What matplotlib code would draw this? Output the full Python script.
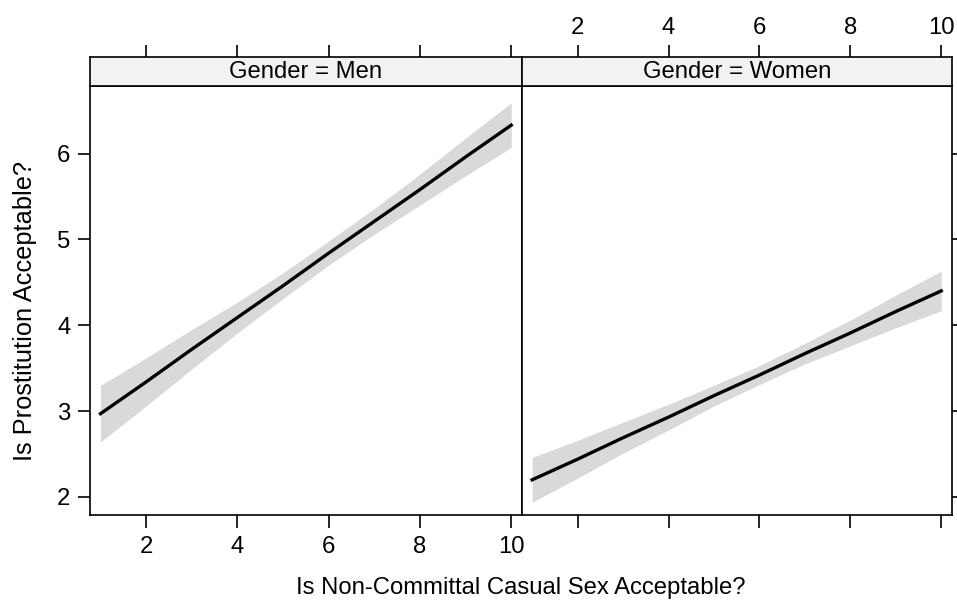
import matplotlib
matplotlib.use("Agg")
import matplotlib.pyplot as plt

plt.rcParams['font.family'] = ['Liberation Sans', 'DejaVu Sans']

# Data
x_vals = [1, 2, 3, 4, 5, 6, 7, 8, 9, 10]
men_fit = [2.97, 3.34, 3.72, 4.09, 4.46, 4.84, 5.21, 5.58, 5.96, 6.33]
men_lower = [2.64, 3.06, 3.49, 3.91, 4.31, 4.70, 5.06, 5.40, 5.74, 6.07]
men_upper = [3.30, 3.62, 3.95, 4.27, 4.61, 4.98, 5.36, 5.76, 6.18, 6.59]
women_fit = [2.20, 2.44, 2.69, 2.93, 3.18, 3.42, 3.67, 3.91, 4.16, 4.40]
women_lower = [1.94, 2.22, 2.51, 2.78, 3.06, 3.31, 3.55, 3.76, 3.97, 4.17]
women_upper = [2.46, 2.66, 2.87, 3.08, 3.30, 3.53, 3.79, 4.06, 4.35, 4.63]
panels = ["Gender = Men", "Gender = Women"]
x_ticks = [2, 4, 6, 8, 10]
y_ticks = [2, 3, 4, 5, 6]
x_label = "Is Non-Committal Casual Sex Acceptable?"
y_label = "Is Prostitution Acceptable?"

W, H = 957, 601
fig = plt.figure(figsize=(W / 100, H / 100), dpi=100)

def fx(p):
    return p / W

def fy(p):
    return 1 - p / H

left_px, mid_px, right_px = 90, 521.7, 951.7
top_px, strip_bot_px, bot_px = 56.7, 85.7, 515
xlim = (0.77, 10.23)
ylim = (1.79, 6.79)
FS = 17.2
LW = 1.2

series = [(men_fit, men_lower, men_upper), (women_fit, women_lower, women_upper)]
bounds = [(left_px, mid_px), (mid_px, right_px)]

for i, ((fit, lo, hi), (l, r)) in enumerate(zip(series, bounds)):
    ax = fig.add_axes([fx(l), fy(bot_px), fx(r - l), (bot_px - strip_bot_px) / H])
    ax.fill_between(x_vals, lo, hi, color='#d9d9d9', linewidth=0)
    ax.plot(x_vals, fit, color='black', linewidth=2.4)
    ax.set_xlim(*xlim)
    ax.set_ylim(*ylim)
    for s in ax.spines.values():
        s.set_linewidth(LW)
    ax.tick_params(length=9, width=LW, labelsize=FS, pad=6, direction='out')
    ax.set_xticks(x_ticks)
    ax.set_yticks(y_ticks)
    if i == 0:
        ax.tick_params(axis='x', bottom=True, labelbottom=True)
        ax.tick_params(axis='y', left=True, labelleft=True, right=False, pad=5)
    else:
        ax.tick_params(axis='x', bottom=True, labelbottom=False)
        ax.tick_params(axis='y', left=False, labelleft=False, right=True, labelright=False)

    sax = fig.add_axes([fx(l), fy(strip_bot_px), fx(r - l), (strip_bot_px - top_px) / H])
    sax.set_facecolor('#f2f2f2')
    sax.set_xlim(*xlim)
    sax.set_ylim(0, 1)
    for s in sax.spines.values():
        s.set_linewidth(LW)
    sax.set_yticks([])
    sax.set_xticks(x_ticks)
    sax.tick_params(axis='x', bottom=False, labelbottom=False, top=True,
                    labeltop=(i == 1), length=9, width=LW, labelsize=FS, pad=4)
    sax.text(0.5, 0.47, panels[i], transform=sax.transAxes, ha='center', va='center',
             fontsize=FS)

fig.text(fx((left_px + right_px) / 2), fy(588), x_label, ha='center', va='center', fontsize=FS)
fig.text(fx(25), fy(311), y_label, ha='center', va='center', rotation=90, fontsize=18.3)

fig.savefig("out.png", dpi=100)
